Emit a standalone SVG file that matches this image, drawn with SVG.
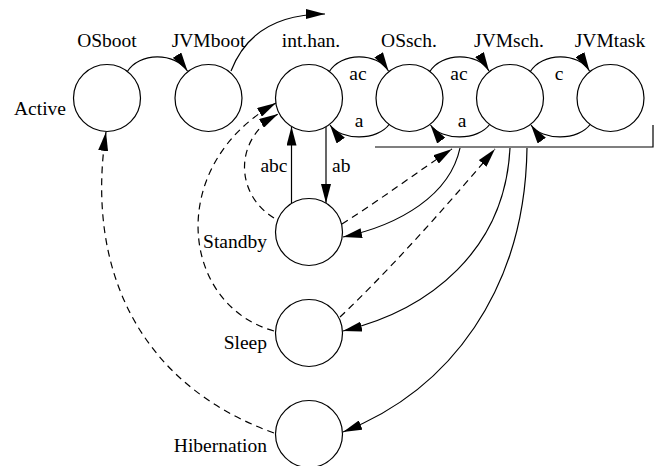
<svg xmlns="http://www.w3.org/2000/svg" width="657" height="466" viewBox="0 0 657 466">
<style>
text{font-family:'Liberation Serif','DejaVu Serif',serif;font-size:19.5px;fill:#000}
.n{fill:#fff;stroke:#000;stroke-width:1.2}
.e{fill:none;stroke:#000;stroke-width:1.2}
.d{fill:none;stroke:#000;stroke-width:1.2;stroke-dasharray:7 5}
.m{text-anchor:middle}
.r{text-anchor:end}
</style>
<defs>
<marker id="ah" markerWidth="19" markerHeight="10" refX="19" refY="5" orient="auto" markerUnits="userSpaceOnUse">
<path d="M0,0 L19,5 L0,10 z" fill="#000"/>
</marker>
</defs>
<rect width="657" height="466" fill="#fff"/>
<g id="connectors">
<path class="e" d="M127 72 C139 52,175 52,187.5 71" marker-end="url(#ah)"/>
<path class="e" d="M231 71 C245 35,275 14,325 14" marker-end="url(#ah)"/>
<path class="e" d="M329 72 C341 52,377 52,388.5 71" marker-end="url(#ah)"/>
<path class="e" d="M429.5 72 C441.5 52,478 52,489 71" marker-end="url(#ah)"/>
<path class="e" d="M530 72 C542 52,578.5 52,589.5 71" marker-end="url(#ah)"/>
<path class="e" d="M389.5 124 C377.5 141,341 141,330 125" marker-end="url(#ah)"/>
<path class="e" d="M490 124 C478 141,441.5 141,430.5 125" marker-end="url(#ah)"/>
<path class="e" d="M590.5 124 C578.5 141,542 141,531 125" marker-end="url(#ah)"/>
<polyline class="e" points="375,147 653,147 653,125"/>
<path class="e" d="M291.5 203.4 L291.5 126.6" marker-end="url(#ah)"/>
<path class="e" d="M326 126.9 L326 203.1" marker-end="url(#ah)"/>
<path class="d" d="M274 218 C236 195,232 140,278 114" marker-end="url(#ah)"/>
<path class="d" d="M274 331 C180 305,165 165,276 103" marker-end="url(#ah)"/>
<path class="d" d="M274 433 C140 385,85 270,106 132" marker-end="url(#ah)"/>
<path class="e" d="M460 148 C450 195,400 225,343 237" marker-end="url(#ah)"/>
<path class="e" d="M510 148 C505 250,430 310,343 331" marker-end="url(#ah)"/>
<path class="e" d="M527 148 C525 290,450 390,343 432" marker-end="url(#ah)"/>
<path class="d" d="M342 224 C380 200,420 170,452 149" marker-end="url(#ah)"/>
<path class="d" d="M340 317 C400 260,460 190,495 149" marker-end="url(#ah)"/>
<text class="m" x="358" y="80">ac</text>
<text class="m" x="459" y="80">ac</text>
<text class="m" x="559" y="80">c</text>
<text class="m" x="359" y="127">a</text>
<text class="m" x="462" y="127">a</text>
<text class="r" x="287.5" y="172">abc</text>
<text x="332" y="172">ab</text>
</g>
<g id="active-label"><text class="r" x="66" y="115">Active</text></g>
<g id="OSboot"><circle class="n" cx="107" cy="98" r="33.5"/><text class="m" x="107" y="47">OSboot</text></g>
<g id="JVMboot"><circle class="n" cx="208.5" cy="98" r="33.5"/><text class="m" x="208.5" y="47">JVMboot</text></g>
<g id="inthan"><circle class="n" cx="309" cy="98" r="33.5"/><text class="m" x="311" y="47">int.han.</text></g>
<g id="OSsch"><circle class="n" cx="409.5" cy="98" r="33.5"/><text class="m" x="409" y="47">OSsch.</text></g>
<g id="JVMsch"><circle class="n" cx="510" cy="98" r="33.5"/><text class="m" x="509" y="47">JVMsch.</text></g>
<g id="JVMtask"><circle class="n" cx="610.5" cy="98" r="33.5"/><text class="m" x="610" y="47">JVMtask</text></g>
<g id="Standby"><circle class="n" cx="309" cy="232" r="33.5"/><text class="r" x="267" y="248">Standby</text></g>
<g id="Sleep"><circle class="n" cx="309" cy="333" r="33.5"/><text class="r" x="267" y="349">Sleep</text></g>
<g id="Hibernation"><circle class="n" cx="309" cy="434" r="33.5"/><text class="r" x="267" y="452">Hibernation</text></g>
</svg>
